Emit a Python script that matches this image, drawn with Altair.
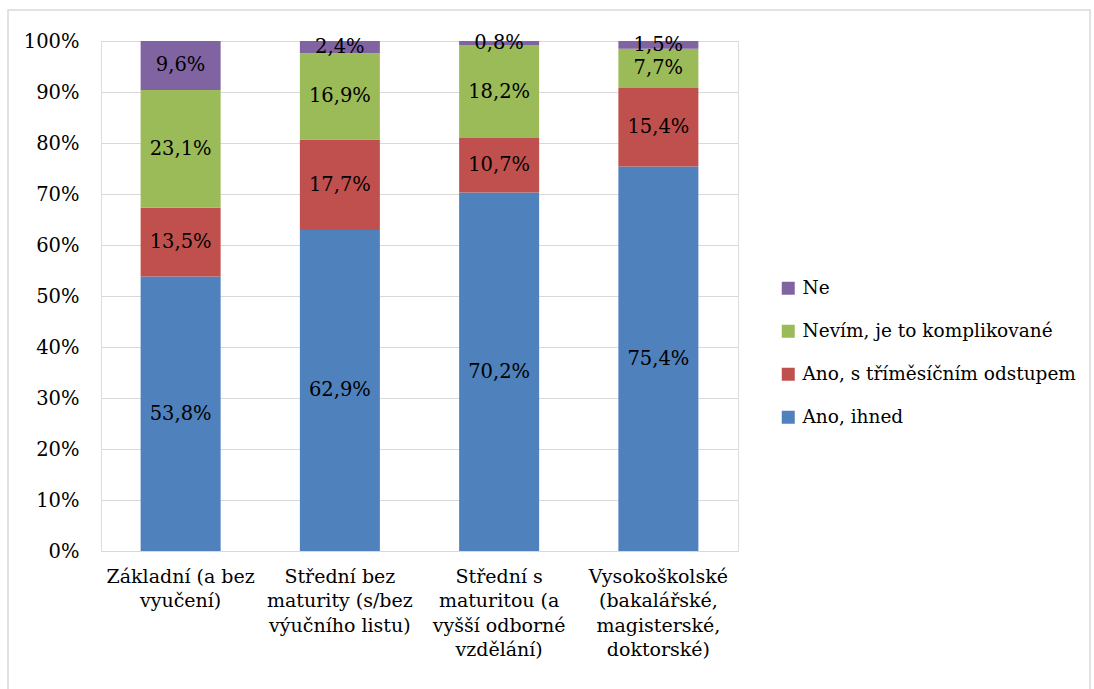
import altair as alt
import pandas as pd

# Education levels (line breaks split the axis labels)
categories = [
    "Základní (a bez\nvyučení)",
    "Střední bez\nmaturity (s/bez\nvýučního listu)",
    "Střední s\nmaturitou (a\nvyšší odborné\nvzdělání)",
    "Vysokoškolské\n(bakalářské,\nmagisterské,\ndoktorské)",
]

# Answer series, bottom of the stack first
series = ["Ano, ihned", "Ano, s tříměsíčním odstupem", "Nevím, je to komplikované", "Ne"]
colors = ["#4F81BD", "#C0504D", "#9BBB59", "#8064A2"]

# Percentages per series, one value per education level
ano_ihned = [53.8, 62.9, 70.2, 75.4]
ano_odstup = [13.5, 17.7, 10.7, 15.4]
nevim = [23.1, 16.9, 18.2, 7.7]
ne = [9.6, 2.4, 0.8, 1.5]

values = [ano_ihned, ano_odstup, nevim, ne]

rows = []
for s_idx, (name, vals) in enumerate(zip(series, values)):
    for c_idx, cat in enumerate(categories):
        rows.append({"kat": cat, "odp": name, "poradi": s_idx, "hodnota": vals[c_idx]})
df = pd.DataFrame(rows)

FONT = "DejaVu Serif"
FS = 19.5
PLOT_W, PLOT_H = 637, 510
LEFT, TOP = 101, 41

base = (
    alt.Chart(df)
    .transform_stack(
        stack="hodnota",
        as_=["y0", "y1"],
        groupby=["kat"],
        sort=[alt.SortField("poradi", order="ascending")],
        offset="normalize",
    )
    .transform_calculate(
        ymid="(datum.y0 + datum.y1) / 2",
        popis="replace(format(datum.hodnota, '.1f'), '.', ',') + '%'",
    )
)

x_enc = alt.X(
    "kat:N",
    sort=categories,
    scale=alt.Scale(paddingInner=0.5, paddingOuter=0.25),
    axis=alt.Axis(
        title=None,
        labelAngle=0,
        labelExpr="split(datum.label, '\\n')",
        labelFont=FONT,
        labelFontSize=19,
        labelColor="#000000",
        labelLineHeight=24.5,
        labelPadding=16,
        labelBaseline="top",
        ticks=False,
        domainColor="#d9d9d9",
        domainWidth=1,
        grid=False,
    ),
)

bars = base.mark_bar(size=80).encode(
    x=x_enc,
    y=alt.Y(
        "y0:Q",
        scale=alt.Scale(domain=[0, 1], nice=False),
        axis=alt.Axis(
            title=None,
            format=".0%",
            values=[i / 10 for i in range(11)],
            labelFont=FONT,
            labelFontSize=FS,
            labelColor="#000000",
            labelPadding=22,
            ticks=False,
            domain=False,
            gridColor="#d9d9d9",
            gridWidth=1,
        ),
    ),
    y2="y1:Q",
    color=alt.Color(
        "odp:N",
        scale=alt.Scale(domain=series[::-1], range=colors[::-1]),
        legend=alt.Legend(
            title=None,
            orient="none",
            legendX=678,
            legendY=238,
            symbolType="square",
            symbolSize=169,
            symbolStrokeWidth=0,
            labelFont=FONT,
            labelFontSize=18.5,
            labelColor="#000000",
            labelOffset=5,
            rowPadding=24,
            labelLimit=400,
        ),
    ),
)

labels = base.mark_text(font=FONT, fontSize=FS, color="#000000").encode(
    x=alt.X("kat:N", sort=categories),
    y=alt.Y("ymid:Q"),
    text="popis:N",
)

# Thin grey frame around the whole figure
frame = alt.Chart(pd.DataFrame({"a": [0]})).mark_rect(
    fill=None, stroke="#d9d9d9", strokeWidth=1.5
).encode(
    x=alt.value(8 - LEFT),
    x2=alt.value(1090 - LEFT),
    y=alt.value(10 - TOP),
    y2=alt.value(720 - TOP),
)

chart = (
    alt.layer(frame, bars, labels)
    .properties(
        width=PLOT_W,
        height=PLOT_H,
        autosize=alt.AutoSizeParams(type="none"),
        padding={"left": LEFT, "top": TOP, "right": 1094 - LEFT - PLOT_W, "bottom": 689 - TOP - PLOT_H},
    )
    .configure_view(stroke=None)
    .configure(background="#ffffff")
)

chart.save("out.html", embed_options={"renderer": "svg", "actions": False})
